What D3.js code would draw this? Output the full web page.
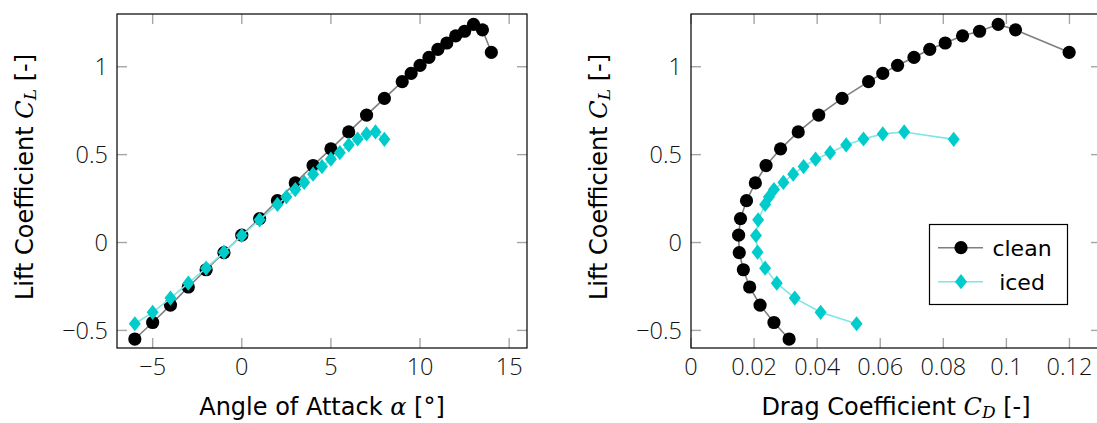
<!DOCTYPE html>
<html><head><meta charset="utf-8">
<script src="https://cdn.jsdelivr.net/npm/d3@7"></script>
<style>
body{margin:0;background:#fff;}
text{font-family:"DejaVu Sans",sans-serif;fill:#000;}
.tick-label{font-family:"Open Sans",sans-serif;font-weight:300;font-size:23.5px;fill:#111;}
.axis-label{font-size:24px;}
.legend-label{font-size:22px;}
</style></head>
<body><svg id="c" width="1097" height="423"></svg>
<script>
// ---- data ----
const cleanAlpha = [-6,-5,-4,-3,-2,-1,0,1,2,3,4,5,6,7,8,9,9.5,10,10.5,11,11.5,12,12.5,13,13.5,14];
const cleanCL = [-0.549,-0.455,-0.356,-0.253,-0.155,-0.057,0.042,0.136,0.238,0.339,0.438,0.533,0.629,0.725,0.820,0.915,0.962,1.008,1.053,1.099,1.135,1.176,1.202,1.241,1.210,1.082];
const cleanCD = [0.0311,0.0263,0.0219,0.0186,0.0166,0.0153,0.0151,0.0157,0.0176,0.0204,0.0238,0.0284,0.0340,0.0405,0.0479,0.0563,0.0608,0.0655,0.0707,0.0757,0.0806,0.0861,0.0915,0.0974,0.1029,0.1199];
const icedAlpha = [-6,-5,-4,-3,-2,-1,0,1,2,2.5,3,3.5,4,4.5,5,5.5,6,6.5,7,7.5,8];
const icedCL = [-0.462,-0.397,-0.316,-0.231,-0.146,-0.055,0.040,0.129,0.217,0.259,0.301,0.342,0.389,0.432,0.474,0.511,0.555,0.589,0.618,0.629,0.587];
const icedCD = [0.0525,0.0411,0.0329,0.0272,0.0235,0.0211,0.0206,0.0213,0.0235,0.0247,0.0263,0.0293,0.0324,0.0357,0.0395,0.0441,0.0492,0.0547,0.0608,0.0676,0.0833];
const alphaTicks = [-5,0,5,10,15];
const cdTicks = [0,0.02,0.04,0.06,0.08,0.1,0.12];
const clTicks = [-0.5,0,0.5,1];
const legendLabels = ["clean","iced"];

const svg = d3.select("#c");
const plotTop = 14, plotBottom = 348;
const y = d3.scaleLinear().domain([-0.6,1.3]).range([plotBottom, plotTop]);
const clean = {color:"#000", line:"#7f7f7f", shape:"circle"};
const iced = {color:"#00cccc", line:"#7fe5e5", shape:"diamond"};

function fmt(v){ const s = d3.format("~g")(v); return s.replace("-","\u2212"); }

function marker(g, x, yy, st){
  if(st.shape==="circle"){
    g.append("circle").attr("cx",x).attr("cy",yy).attr("r",6.6).attr("fill",st.color);
  } else {
    g.append("path").attr("d",`M${x},${yy-7.6}L${x+6},${yy}L${x},${yy+7.6}L${x-6},${yy}Z`).attr("fill",st.color);
  }
}

function panel(x0, x1, xdom, xticks, xlabelParts, ylabelX, series){
  const x = d3.scaleLinear().domain(xdom).range([x0,x1]);
  const g = svg.append("g");
  const tickLen = 10;
  const tickColor = "#a6a6a6";
  xticks.forEach(t=>{
    const px = x(t);
    g.append("line").attr("x1",px).attr("x2",px).attr("y1",plotBottom).attr("y2",plotBottom-tickLen).attr("stroke",tickColor).attr("stroke-width",1.4);
    g.append("line").attr("x1",px).attr("x2",px).attr("y1",plotTop).attr("y2",plotTop+tickLen).attr("stroke",tickColor).attr("stroke-width",1.4);
    g.append("text").attr("class","tick-label").attr("x",px).attr("y",375).attr("text-anchor","middle").text(fmt(t));
  });
  clTicks.forEach(t=>{
    const py = y(t);
    g.append("line").attr("x1",x0).attr("x2",x0+tickLen).attr("y1",py).attr("y2",py).attr("stroke",tickColor).attr("stroke-width",1.4);
    g.append("line").attr("x1",x1).attr("x2",x1-tickLen).attr("y1",py).attr("y2",py).attr("stroke",tickColor).attr("stroke-width",1.4);
    g.append("text").attr("class","tick-label").attr("x",x0-9).attr("y",py+8.5).attr("text-anchor","end").text(fmt(t));
  });
  series.forEach(s=>{
    const pts = s.xs.map((v,i)=>[x(v), y(s.ys[i])]);
    g.append("path").attr("d",d3.line()(pts)).attr("fill","none").attr("stroke",s.st.line).attr("stroke-width",1.6);
    pts.forEach(p=>marker(g,p[0],p[1],s.st));
  });
  g.append("rect").attr("x",x0).attr("y",plotTop).attr("width",x1-x0).attr("height",plotBottom-plotTop).attr("fill","none").attr("stroke","#000").attr("stroke-width",1.2);
  const xl = g.append("text").attr("class","axis-label").attr("x",(x0+x1)/2).attr("y",415).attr("text-anchor","middle");
  xlabelParts.forEach(p=>{
    const ts = xl.append("tspan").text(p.t);
    if(p.it) ts.attr("font-style","italic").attr("font-family","DejaVu Serif");
    if(p.sub) ts.attr("font-size","17px").attr("dy","3");
    if(p.after) ts.attr("dy","-3");
  });
  const yl = g.append("text").attr("class","axis-label").attr("transform",`translate(${ylabelX},177) rotate(-90)`).attr("text-anchor","middle");
  yl.append("tspan").text("Lift Coefficient ");
  yl.append("tspan").text("C").attr("font-style","italic").attr("font-family","DejaVu Serif");
  yl.append("tspan").text("L").attr("font-style","italic").attr("font-family","DejaVu Serif").attr("font-size","17px").attr("dy","3");
  yl.append("tspan").text(" [-]").attr("dy","-3");
  return x;
}

panel(117, 527, [-7,16], alphaTicks,
  [{t:"Angle of Attack "},{t:"\u03b1",it:true},{t:" [°]"}], 33,
  [{xs:cleanAlpha, ys:cleanCL, st:clean},{xs:icedAlpha, ys:icedCL, st:iced}]);

panel(691, 1101, [0,0.13], cdTicks,
  [{t:"Drag Coefficient "},{t:"C",it:true},{t:"D",it:true,sub:true},{t:" [-]",after:true}], 607,
  [{xs:cleanCD, ys:cleanCL, st:clean},{xs:icedCD, ys:icedCL, st:iced}]);

const lg = svg.append("g");
lg.append("rect").attr("x",929.5).attr("y",224.5).attr("width",138).attr("height",80).attr("fill","#fff").attr("stroke","#000").attr("stroke-width",1.2);
[clean, iced].forEach((st,i)=>{
  const yy = 247.7 + i*34;
  lg.append("line").attr("x1",938).attr("x2",983).attr("y1",yy).attr("y2",yy).attr("stroke",st.line).attr("stroke-width",1.6);
  marker(lg, 961, yy, st);
  lg.append("text").attr("class","legend-label").attr("x",1022).attr("y",yy+8).attr("text-anchor","middle").text(legendLabels[i]);
});
</script></body></html>
